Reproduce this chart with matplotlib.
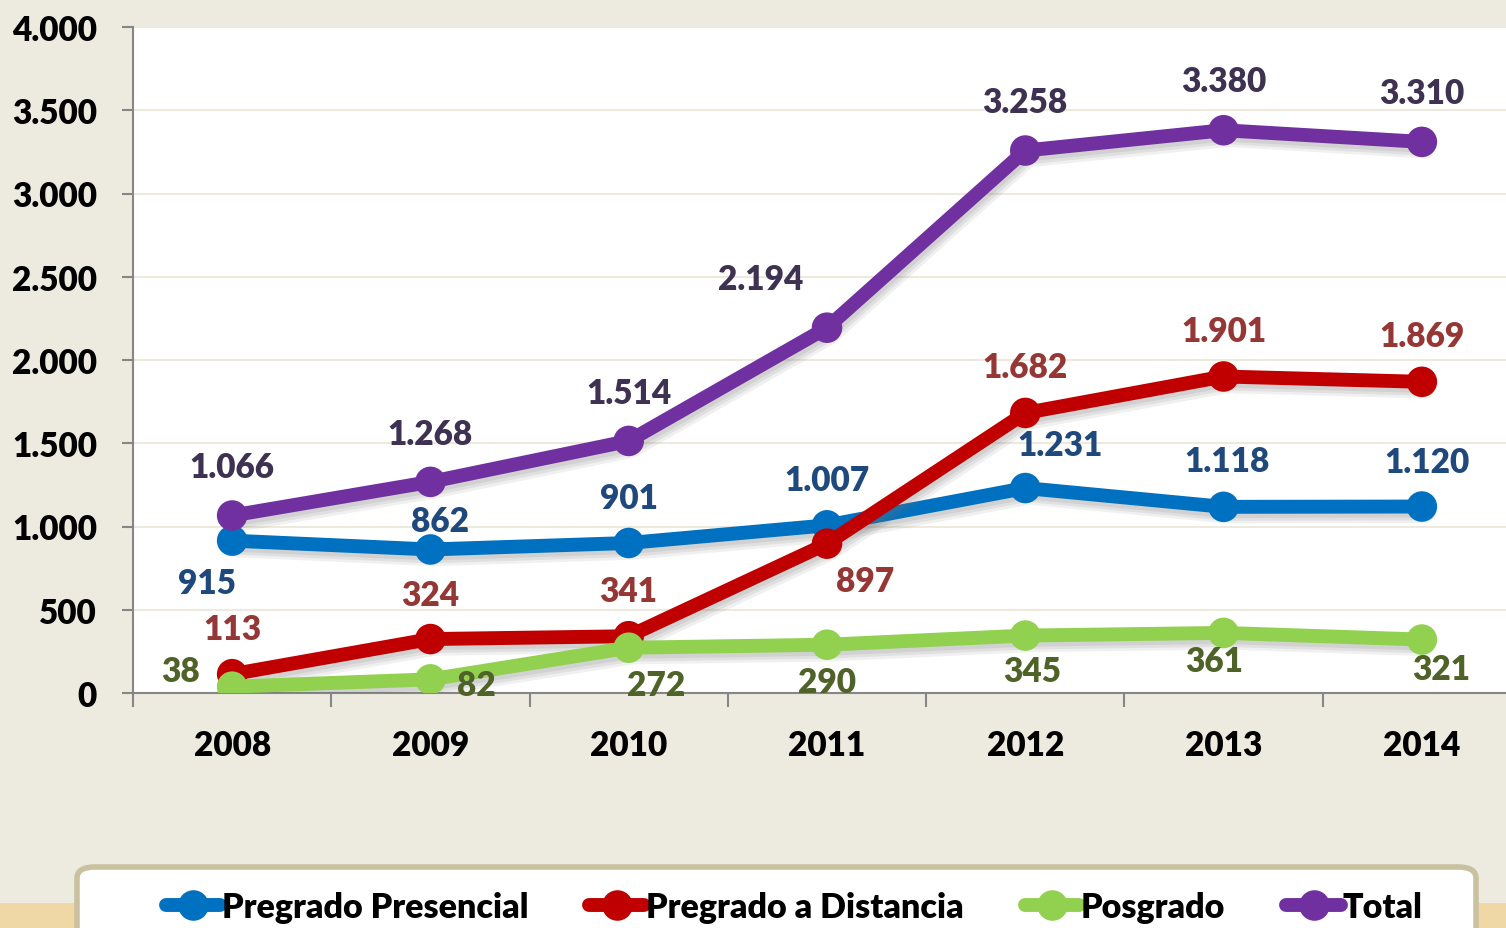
import matplotlib
matplotlib.use("Agg")
import matplotlib.pyplot as plt
import matplotlib.patheffects as pe
from matplotlib.patches import FancyBboxPatch, Rectangle
from matplotlib.ticker import FixedLocator

plt.rcParams['font.family'] = ['Lato', 'DejaVu Sans']
plt.rcParams['font.weight'] = 'bold'

years = ['2008', '2009', '2010', '2011', '2012', '2013', '2014']
presencial = [915, 862, 901, 1007, 1231, 1118, 1120]
distancia = [113, 324, 341, 897, 1682, 1901, 1869]
posgrado = [38, 82, 272, 290, 345, 361, 321]
total = [1066, 1268, 1514, 2194, 3258, 3380, 3310]
series_names = ['Pregrado Presencial', 'Pregrado a Distancia', 'Posgrado', 'Total']
ytick_vals = [0, 500, 1000, 1500, 2000, 2500, 3000, 3500, 4000]
ytick_labels = ['0', '500', '1.000', '1.500', '2.000', '2.500', '3.000', '3.500', '4.000']


def fmt(v):
    return f"{v:,}".replace(",", ".")


line_colors = ['#0070C0', '#C00000', '#92D050', '#7030A0']
label_colors = ['#1F497D', '#953735', '#4F6228', '#3F3151']
# label offsets in pixels (dx, dy)
offsets = [
    [(-25, -42), (10, 28), (0, 45), (0, 45), (35, 43), (3, 46), (5, 45)],
    [(0, 45), (0, 44), (0, 45), (38, -37), (0, 46), (0, 45), (0, 46)],
    [(-52, 16), (46, -6), (27, -37), (0, -37), (7, -35), (-9, -28), (19, -29)],
    [(0, 49), (0, 48), (0, 48), (-66, 49), (0, 49), (0, 49), (0, 49)],
]

W, H, DPI = 1506, 929, 100
FS = 24
WEIGHT = 'heavy'
fig = plt.figure(figsize=(W / DPI, H / DPI), dpi=DPI)
bg = '#EDEBE0'
fig.patch.set_facecolor(bg)

left = 133 / W
right = 1521 / W
bottom = 1 - 694 / H
top = 1 - 28 / H
ax = fig.add_axes([left, bottom, right - left, top - bottom])
ax.set_facecolor('white')

x = list(range(len(years)))
all_series = [presencial, distancia, posgrado, total]
shadow = [pe.SimpleLineShadow(offset=(1, -3), shadow_color='#707070', alpha=0.12),
          pe.SimpleLineShadow(offset=(2, -5), shadow_color='#707070', alpha=0.12),
          pe.SimpleLineShadow(offset=(3, -7), shadow_color='#707070', alpha=0.10),
          pe.Normal()]
for i, s in enumerate(all_series):
    ax.plot(x, s, color=line_colors[i], lw=10, marker='o', ms=22, mew=0,
            solid_capstyle='round', solid_joinstyle='round',
            label=series_names[i], zorder=3 + i, path_effects=shadow)

for i, s in enumerate(all_series):
    for j, v in enumerate(s):
        dx, dy = offsets[i][j]
        ax.annotate(fmt(v), (x[j], v), xytext=(dx, dy), textcoords='offset pixels',
                    ha='center', va='center', fontsize=FS, fontweight=WEIGHT,
                    color=label_colors[i], zorder=10, annotation_clip=False)

ax.set_xlim(-0.5, 6.5)
ax.set_ylim(0, 4000)
ax.set_yticks(ytick_vals)
ax.set_yticklabels(ytick_labels)
ax.set_xticks(x)
ax.set_xticklabels(years)
ax.xaxis.set_minor_locator(FixedLocator([k + 0.5 for k in range(-1, 7)]))
ax.tick_params(axis='x', which='major', length=0, pad=26, labelsize=FS, labelcolor='black')
ax.tick_params(axis='x', which='minor', length=10, width=1.5, color='#868686', direction='out')
ax.tick_params(axis='y', which='major', length=8, width=1.5, color='#868686', pad=18,
               labelsize=FS, labelcolor='black')
for lab in ax.get_xticklabels() + ax.get_yticklabels():
    lab.set_fontweight(WEIGHT)
ax.grid(axis='y', color='#EDE9DC', lw=1.5, zorder=0)
ax.set_axisbelow(True)
for sp in ['top', 'right']:
    ax.spines[sp].set_visible(False)
for sp in ['left', 'bottom']:
    ax.spines[sp].set_color('#868686')
    ax.spines[sp].set_linewidth(1.5)

# textured strip at bottom
fig.add_artist(Rectangle((0, 0), 1, 1 - 904 / H, transform=fig.transFigure,
                         facecolor='#EFD8A6', edgecolor='none', zorder=0))

# legend box
box = FancyBboxPatch((77 / W, -0.05), (1476 - 77) / W, (1 - 868 / H) + 0.05,
                     boxstyle='round,pad=0,rounding_size=0.012', transform=fig.transFigure,
                     facecolor='white', edgecolor='#C9C19F', linewidth=4, zorder=1)
fig.add_artist(box)

leg = fig.legend(loc='center', bbox_to_anchor=(794 / W, 1 - 908 / H), ncol=4, frameon=False,
                 handlelength=1.6, handletextpad=0.05, columnspacing=1.8,
                 prop={'weight': WEIGHT, 'size': 24.5})
leg.set_zorder(5)
for h in leg.legend_handles:
    h.set_path_effects([])
    h.set_markersize(22)
    h.set_linewidth(10)

fig.savefig('out.png', dpi=DPI, facecolor=fig.get_facecolor())
